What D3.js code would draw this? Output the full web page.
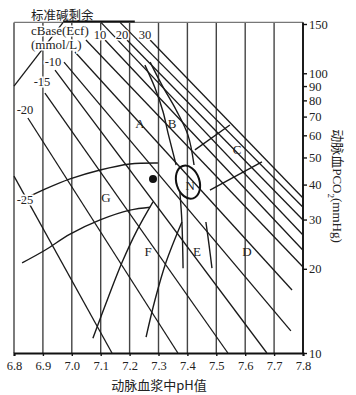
<!DOCTYPE html>
<html>
<head>
<meta charset="utf-8">
<script src="https://cdn.jsdelivr.net/npm/d3@7"></script>
<style>
  body { margin: 0; background: #fff; }
  text { font-family: "Liberation Serif", "DejaVu Serif", serif; fill: #222; }
</style>
</head>
<body>
<svg width="356" height="395"></svg>
<script>
// axes
const phTicks = [6.8, 6.9, 7.0, 7.1, 7.2, 7.3, 7.4, 7.5, 7.6, 7.7, 7.8];
const pco2Ticks = [10, 20, 30, 40, 50, 60, 70, 80, 90, 100, 150];
const topPCO2 = 152;

// base excess lines (start / end)
const beValues   = [-25, -20, -15, -10, -5, 0, 5, 10, 15, 20, 25, 30];
const beStartPH  = [6.80, 6.848, 6.907, 6.942, 6.973, 7.011, 7.049, 7.115, 7.101, 7.191, 7.167, 7.271];
const beStartCO2 = [42.9, 69.2, 84.9, 102.7, 109.6, 119.1, 131.5, 131.5, 152, 131.5, 152, 131.5];
const beEndPH    = [7.139, 7.367, 7.540, 7.675, 7.758, 7.762, 7.80, 7.80, 7.80, 7.80, 7.80, 7.80];
const beEndCO2   = [10, 10, 10, 10, 12.0, 16.8, 20.3, 23.3, 26.4, 29.9, 33.2, 35.8];

// BE labels
const beLabelText = ["-25", "-20", "-15", "-10", "10", "20", "30"];
const beLabelPH   = [6.838, 6.838, 6.897, 6.935, 7.098, 7.174, 7.253];
const beLabelCO2  = [35.2, 73.9, 93.0, 109.6, 138, 138, 138];

// region boundaries
const upperG = [[6.828, 35.2], [6.907, 38.5], [6.994, 41.9], [7.098, 45.1], [7.201, 47.4], [7.298, 47.8]];
const lowerG = [[6.828, 21.0], [6.907, 23.3], [6.994, 26.6], [7.098, 29.9], [7.201, 32.4], [7.271, 33.2]];
const fLeft  = [[7.073, 11.3], [7.125, 15.7], [7.174, 21.1], [7.226, 27.5], [7.281, 34.7]];
const fRight = [[7.257, 11.4], [7.288, 15.5], [7.326, 21.1], [7.381, 29.4]];
const eLeft  = [[7.374, 37.6], [7.381, 29.4], [7.385, 20.1]];
const eRight = [[7.464, 29.4], [7.475, 24.3], [7.485, 20.1]];
const cUpper = [[7.426, 53.2], [7.547, 65.3]];
const cLower = [[7.478, 38.2], [7.658, 48.2]];
const bLeft  = [[7.253, 106.9], [7.288, 88.5], [7.316, 72.7], [7.333, 61.1], [7.361, 47.0]];
const bRight = [[7.271, 109.6], [7.312, 90.7], [7.361, 73.9], [7.402, 60.1], [7.423, 47.0]];
const scaleLeader = [[6.80, 89.9], [6.970, 152]];
const topBar = [6.97, 7.218];

// region letters
const regionText = ["A", "B", "C", "N", "G", "F", "E", "D"];
const regionPH   = [7.236, 7.347, 7.572, 7.410, 7.118, 7.264, 7.433, 7.606];
const regionCO2  = [66.4, 66.4, 53.2, 39.8, 36.1, 23.0, 23.0, 23.0];

// normal area and patient point
const normalCenter = [7.402, 40.8];
const patient = [7.281, 41.9];

const svg = d3.select("svg");
const x = d3.scaleLinear().domain([6.8, 7.8]).range([14, 303]);
const y = d3.scaleLog().domain([10, 150]).range([353, 24]);

const yTop = y(topPCO2);
const yBot = y(10);

// vertical grid
svg.append("g").selectAll("line")
  .data(phTicks)
  .join("line")
  .attr("x1", d => x(d)).attr("x2", d => x(d))
  .attr("y1", yTop).attr("y2", yBot)
  .attr("stroke", "#444")
  .attr("stroke-width", 1.4);

// top border
svg.append("line")
  .attr("x1", x(6.8)).attr("x2", x(7.8))
  .attr("y1", yTop).attr("y2", yTop)
  .attr("stroke", "#777").attr("stroke-width", 1.2);

svg.append("line")
  .attr("x1", x(topBar[0])).attr("x2", x(topBar[1]))
  .attr("y1", yTop - 1).attr("y2", yTop - 1)
  .attr("stroke", "#111").attr("stroke-width", 2);

// bottom axis
const xAxis = svg.append("g")
  .attr("transform", `translate(0,${yBot})`)
  .call(d3.axisBottom(x).tickValues(phTicks).tickFormat(d3.format(".1f")).tickSize(3));
xAxis.select(".domain").attr("stroke", "#111").attr("stroke-width", 2);
xAxis.selectAll(".tick line").attr("stroke", "#111").attr("stroke-width", 1.4);
xAxis.selectAll("text").attr("font-size", 12.5).attr("y", 5).attr("dy", "0.98em")
  .style("font-family", "Liberation Serif").attr("fill", "#222");

// right axis
const yAxis = svg.append("g")
  .attr("transform", `translate(${x(7.8)},0)`)
  .call(d3.axisRight(y).tickValues(pco2Ticks).tickFormat(d3.format("d")).tickSize(4));
yAxis.select(".domain").attr("stroke", "#111").attr("stroke-width", 1.8)
  .attr("d", `M0,${yTop}V${yBot}`);
yAxis.selectAll(".tick line").attr("stroke", "#111").attr("stroke-width", 1.4);
yAxis.selectAll("text").attr("font-size", 12.5).attr("x", 6)
  .style("font-family", "Liberation Serif").attr("fill", "#222");

// BE lines
const beData = beValues.map((v, i) => ({
  be: v,
  pts: [[beStartPH[i], beStartCO2[i]], [beEndPH[i], beEndCO2[i]]]
}));
const straight = d3.line().x(d => x(d[0])).y(d => y(d[1]));
svg.append("g").selectAll("path")
  .data(beData)
  .join("path")
  .attr("d", d => straight(d.pts))
  .attr("fill", "none")
  .attr("stroke", "#1a1a1a")
  .attr("stroke-width", 1.3);

svg.append("path")
  .attr("d", straight(scaleLeader))
  .attr("fill", "none").attr("stroke", "#1a1a1a").attr("stroke-width", 1.3);

// region curves
const smooth = d3.line().x(d => x(d[0])).y(d => y(d[1])).curve(d3.curveCatmullRom);
[upperG, lowerG, fLeft, fRight, eLeft, eRight, cUpper, cLower, bLeft, bRight].forEach(c => {
  svg.append("path")
    .attr("d", smooth(c))
    .attr("fill", "none")
    .attr("stroke", "#1a1a1a")
    .attr("stroke-width", 1.4);
});

// normal ellipse
svg.append("ellipse")
  .attr("cx", x(normalCenter[0])).attr("cy", y(normalCenter[1]))
  .attr("rx", 11.5).attr("ry", 17)
  .attr("transform", `rotate(-18,${x(normalCenter[0])},${y(normalCenter[1])})`)
  .attr("fill", "none").attr("stroke", "#111").attr("stroke-width", 2);

// patient point
svg.append("circle")
  .attr("cx", x(patient[0])).attr("cy", y(patient[1]))
  .attr("r", 4).attr("fill", "#111");

// BE labels
svg.append("g").selectAll("text")
  .data(beLabelText)
  .join("text")
  .attr("x", (d, i) => x(beLabelPH[i]))
  .attr("y", (d, i) => y(beLabelCO2[i]))
  .attr("dy", "0.35em")
  .attr("text-anchor", "middle")
  .attr("font-size", 12.5)
  .attr("stroke", "#fff").attr("stroke-width", 3).attr("paint-order", "stroke")
  .text(d => d);

// region letters
svg.append("g").selectAll("text")
  .data(regionText)
  .join("text")
  .attr("x", (d, i) => x(regionPH[i]))
  .attr("y", (d, i) => y(regionCO2[i]))
  .attr("dy", "0.35em")
  .attr("text-anchor", "middle")
  .attr("font-size", 13)
  .attr("fill", "#444")
  .text(d => d);

// title block
const title = svg.append("g").attr("font-size", 13);
title.append("text").attr("x", 31).attr("y", 20).style("font-family", "Noto Sans CJK SC").attr("font-size", 12.5).text("标准碱剩余");
title.append("text").attr("x", 31).attr("y", 35).attr("font-size", 13)
  .attr("stroke", "#fff").attr("stroke-width", 3).attr("paint-order", "stroke").text("cBase(Ecf)");
title.append("text").attr("x", 31).attr("y", 49).attr("font-size", 13)
  .attr("stroke", "#fff").attr("stroke-width", 3).attr("paint-order", "stroke").text("(mmol/L)");

// axis titles
svg.append("text")
  .attr("x", 159).attr("y", 390)
  .attr("text-anchor", "middle")
  .attr("font-size", 13)
  .style("font-family", "Noto Sans CJK SC, Liberation Serif")
  .text("动脉血浆中pH值");

const yt = svg.append("text")
  .attr("transform", "translate(333,186) rotate(90)")
  .attr("text-anchor", "middle")
  .attr("font-size", 13);
yt.append("tspan").style("font-family", "Noto Sans CJK SC").text("动脉血");
yt.append("tspan").text("PCO");
yt.append("tspan").attr("font-size", 9).attr("baseline-shift", "sub").text("2");
yt.append("tspan").text("(mmHg)");
</script>
</body>
</html>
